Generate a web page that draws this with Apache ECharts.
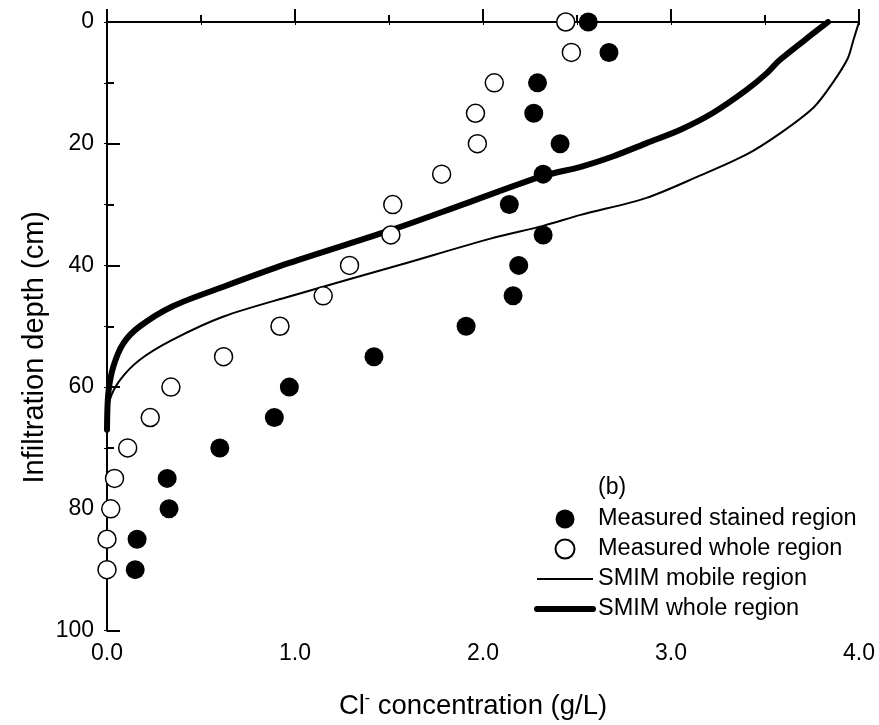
<!DOCTYPE html>
<html>
<head>
<meta charset="utf-8">
<script src="https://cdn.jsdelivr.net/npm/echarts@6/dist/echarts.min.js"></script>
<style>
  html, body { margin: 0; padding: 0; background: #fff; }
  #chart { width: 879px; height: 725px; }
</style>
</head>
<body>
<div id="chart"></div>
<script>
// depth (cm) of the measured points
const depths = [0, 5, 10, 15, 20, 25, 30, 35, 40, 45, 50, 55, 60, 65, 70, 75, 80, 85, 90];
// Cl- concentration (g/L), stained region (filled circles)
const stained = [2.56, 2.67, 2.29, 2.27, 2.41, 2.32, 2.14, 2.32, 2.19, 2.16, 1.91, 1.42, 0.97, 0.89, 0.60, 0.32, 0.33, 0.16, 0.15];
// Cl- concentration (g/L), whole region (open circles)
const whole = [2.44, 2.47, 2.06, 1.96, 1.97, 1.78, 1.52, 1.51, 1.29, 1.15, 0.92, 0.62, 0.34, 0.23, 0.11, 0.04, 0.02, 0.0, 0.0];

// SMIM mobile region curve
const mobileConc = [4.0, 3.97, 3.94, 3.86, 3.76, 3.58, 3.40, 3.15, 2.87, 2.52, 2.32, 2.04, 1.56, 0.97, 0.62, 0.35, 0.175, 0.07, 0.016, 0.0];
const mobileDepth = [0, 3, 6, 10, 14, 18.3, 21.8, 25.3, 28.9, 31.7, 33.5, 35.6, 39.9, 45.1, 48.4, 52.2, 55.5, 58.8, 62, 66];

// SMIM whole region curve
const smimConc = [3.835, 3.76, 3.58, 3.51, 3.40, 3.22, 3.05, 2.87, 2.69, 2.52, 2.32, 1.91, 1.53, 0.97, 0.62, 0.35, 0.175, 0.087, 0.034, 0.007, 0.0];
const smimDepth = [0, 1.8, 6.2, 8.4, 11.2, 15, 17.7, 19.9, 22.1, 23.8, 25.3, 29.8, 34.0, 39.6, 43.5, 46.7, 50, 52.8, 56.6, 61, 67];

const xTicks = ['0.0', '1.0', '2.0', '3.0', '4.0'];
const yTicks = [0, 20, 40, 60, 80, 100];

const pairs = (xs, ys) => xs.map((x, i) => [x, ys[i]]);
const font = 'Liberation Sans, Arial, sans-serif';
const noSymbol = { color: 'rgba(0,0,0,0)', borderWidth: 0, opacity: 0 };

const chart = echarts.init(document.getElementById('chart'), null, { renderer: 'canvas' });

const option = {
  animation: false,
  textStyle: { fontFamily: font, color: '#000' },
  title: {
    text: '(b)',
    left: 598,
    top: 476,
    padding: 0,
    textStyle: { fontFamily: font, fontSize: 23, fontWeight: 'normal', color: '#000' }
  },
  legend: {
    orient: 'vertical',
    left: 534,
    top: 507,
    padding: 0,
    itemWidth: 56,
    itemHeight: 19,
    itemGap: 6,
    textStyle: { fontFamily: font, fontSize: 23.5, color: '#000', lineHeight: 19 },
    data: [
      'Measured stained region',
      'Measured whole region',
      { name: 'SMIM mobile region', itemStyle: noSymbol, lineStyle: { width: 2, color: '#000' } },
      { name: 'SMIM whole region', itemStyle: noSymbol, lineStyle: { width: 6, color: '#000', cap: 'round' } }
    ]
  },
  grid: { left: 107, right: 20, top: 22, bottom: 94 },
  xAxis: [{
    type: 'value',
    position: 'bottom',
    min: 0, max: 4, interval: 1,
    name: '{a|Cl}{s|-}{a| concentration (g/L)}',
    nameLocation: 'middle',
    nameGap: 60,
    nameMoveOverlap: false,
    nameTextStyle: {
      padding: [0, 20, 0, 0],
      rich: {
        a: { fontFamily: font, fontSize: 27.5, color: '#000' },
        s: { fontFamily: font, fontSize: 16, color: '#000', verticalAlign: 'top', padding: [0, 0, 15, 0] }
      }
    },
    axisLine: { lineStyle: { color: '#000', width: 2 } },
    axisTick: { inside: true, length: 13, lineStyle: { color: '#000', width: 2 } },
    minorTick: { show: true, splitNumber: 2, length: 7, lineStyle: { color: '#000', width: 2 } },
    axisLabel: {
      fontFamily: font, fontSize: 23, color: '#000', margin: 12,
      formatter: v => xTicks[Math.round(v)]
    },
    splitLine: { show: false }
  }, {
    type: 'value',
    position: 'top',
    min: 0, max: 4, interval: 0.5,
    axisLine: { lineStyle: { color: '#000', width: 2 } },
    axisTick: { inside: true, length: 3, lineStyle: { color: '#000', width: 1 } },
    axisLabel: { show: false },
    splitLine: { show: false }
  }],
  yAxis: [{
    type: 'value',
    position: 'left',
    inverse: true,
    min: 0, max: 100, interval: 20,
    name: 'Infiltration depth (cm)',
    nameLocation: 'middle',
    nameGap: 58,
    nameMoveOverlap: false,
    nameTextStyle: { fontFamily: font, fontSize: 29, color: '#000', padding: [0, 42, 0, 0] },
    axisLine: { lineStyle: { color: '#000', width: 2 } },
    axisTick: { inside: true, length: 13, lineStyle: { color: '#000', width: 2 } },
    minorTick: { show: true, splitNumber: 2, length: 7, lineStyle: { color: '#000', width: 2 } },
    axisLabel: {
      fontFamily: font, fontSize: 23, color: '#000', margin: 13,
      formatter: v => (yTicks.indexOf(v) >= 0 ? String(v) : '')
    },
    splitLine: { show: false }
  }, {
    type: 'value',
    position: 'right',
    inverse: true,
    min: 0, max: 100, interval: 10,
    axisLine: { lineStyle: { color: '#000', width: 2 } },
    axisTick: { inside: true, length: 3, lineStyle: { color: '#000', width: 1 } },
    axisLabel: { show: false },
    splitLine: { show: false }
  }],
  series: [{
    name: 'SMIM mobile region',
    type: 'line',
    smooth: 0.3,
    symbol: 'none',
    data: pairs(mobileConc, mobileDepth),
    lineStyle: { color: '#000', width: 2 },
    itemStyle: { color: '#000' },
    z: 2
  }, {
    name: 'SMIM whole region',
    type: 'line',
    smooth: 0.3,
    symbol: 'none',
    data: pairs(smimConc, smimDepth),
    lineStyle: { color: '#000', width: 6, cap: 'round' },
    itemStyle: { color: '#000' },
    z: 2
  }, {
    name: 'Measured stained region',
    type: 'scatter',
    symbol: 'circle',
    symbolSize: 19,
    clip: false,
    data: pairs(stained, depths),
    itemStyle: { color: '#000', opacity: 1 },
    z: 3
  }, {
    name: 'Measured whole region',
    type: 'scatter',
    symbol: 'circle',
    symbolSize: 18,
    clip: false,
    data: pairs(whole, depths),
    itemStyle: { color: '#fff', borderColor: '#000', borderWidth: 1.5, opacity: 1 },
    z: 3
  }]
};

chart.setOption(option);
</script>
</body>
</html>
